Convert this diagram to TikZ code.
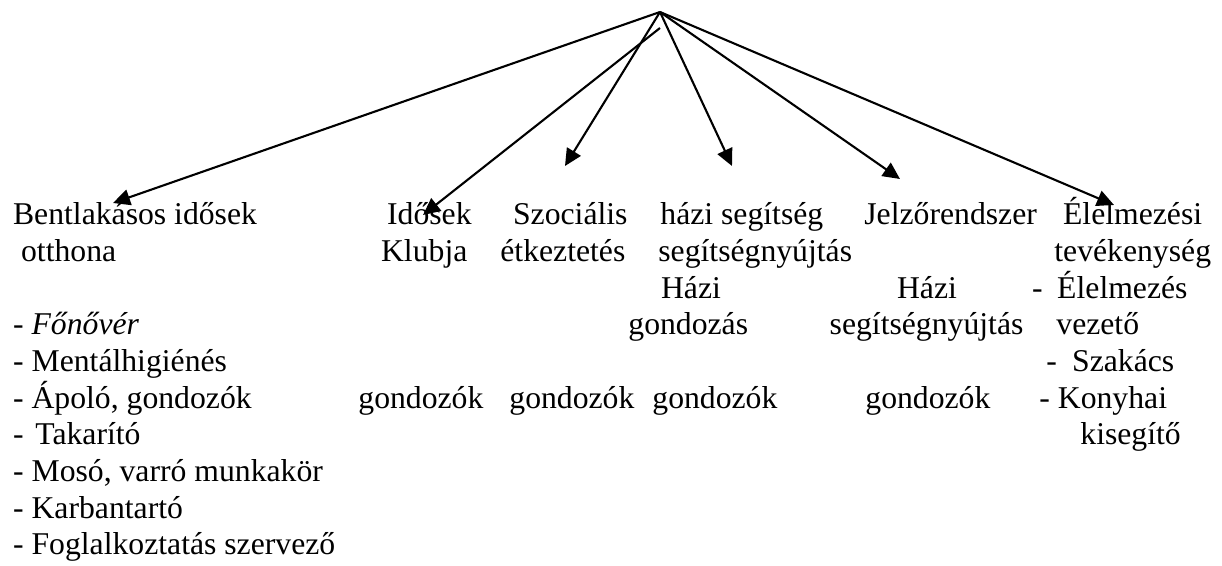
\documentclass[tikz,border=0pt]{standalone}
\usepackage{fontspec}
\setmainfont{Liberation Serif}
\usetikzlibrary{arrows.meta}
\begin{document}
\begin{tikzpicture}[x=0.5pt,y=-0.5pt,
  lbl/.style={anchor=base west, inner sep=0pt, font=\fontsize{15.85}{18}\selectfont},
  link/.style={line width=1.05pt, -{Triangle[length=8.5pt,width=8pt]}}]
\useasboundingbox (0,0) rectangle (1222,566);

% text rows (baselines)
\def\rA{225}\def\rB{261.7}\def\rC{298.3}\def\rD{335}\def\rE{371.7}
\def\rF{408.3}\def\rG{445}\def\rH{481.7}\def\rI{518.3}\def\rJ{555}

% residential home and its staff
\node[lbl] (bent1) at (12.7,\rA) {Bentlakásos idősek};
\node[lbl] (bent2) at (20.7,\rB) {otthona};
\node[lbl] (st1) at (12.7,\rD) {- \textit{Főnővér}};
\node[lbl] (st2) at (12.7,\rE) {- Mentálhigiénés};
\node[lbl] (st3) at (12.7,\rF) {- Ápoló, gondozók};
\node[lbl] (st4) at (12.7,\rG) {-\hspace{0.37em}Takarító};
\node[lbl] (st5) at (12.7,\rH) {- Mosó, varró munkakör};
\node[lbl] (st6) at (12.7,\rI) {- Karbantartó};
\node[lbl] (st7) at (12.7,\rJ) {- Foglalkoztatás szervező};

% day club
\node[lbl] (klub1) at (386.7,\rA) {Idősek};
\node[lbl] (klub2) at (380.7,\rB) {Klubja};
\node[lbl] (gond1) at (358,\rF) {gondozók};

% meals service
\node[lbl] (szoc1) at (512.7,\rA) {Szociális};
\node[lbl] (szoc2) at (500,\rB) {étkeztetés};
\node[lbl] (gond2) at (509,\rF) {gondozók};

% home help
\node[lbl] (hazi1) at (660,\rA) {házi segítség};
\node[lbl] (hazi2) at (658,\rB) {segítségnyújtás};
\node[lbl] (hazi3) at (660.7,\rC) {Házi};
\node[lbl] (hazi4) at (628,\rD) {gondozás};
\node[lbl] (gond3) at (652,\rF) {gondozók};

% alarm system
\node[lbl] (jelz1) at (864,\rA) {Jelzőrendszer};
\node[lbl] (jelz2) at (896.7,\rC) {Házi};
\node[lbl] (jelz3) at (829.3,\rD) {segítségnyújtás};
\node[lbl] (gond4) at (865,\rF) {gondozók};

% catering
\node[lbl] (elel1) at (1062.7,\rA) {Élelmezési};
\node[lbl] (elel2) at (1054,\rB) {tevékenység};
\node[lbl] (elel3) at (1031.7,\rC) {-\hspace{0.46em}Élelmezés};
\node[lbl] (elel4) at (1056,\rD) {vezető};
\node[lbl] (elel5) at (1046,\rE) {-\hspace{0.48em}Szakács};
\node[lbl] (elel6) at (1039,\rF) {- Konyhai};
\node[lbl] (elel7) at (1080,\rG) {kisegítő};

% arrow origin and arrow tips
\coordinate (apex) at (660,12);
\coordinate (apex2) at (660,28);
\coordinate (tBent) at (113,203);
\coordinate (tKlub) at (423,215);
\coordinate (tSzoc) at (565,166);
\coordinate (tHazi) at (732,166);
\coordinate (tJelz) at (900,179);
\coordinate (tElel) at (1114,205);

\draw[link] (apex) -- (tBent);
\draw[link] (apex2) -- (tKlub);
\draw[link] (apex) -- (tSzoc);
\draw[link] (apex) -- (tHazi);
\draw[link] (apex) -- (tJelz);
\draw[link] (apex) -- (tElel);
\end{tikzpicture}
\end{document}
